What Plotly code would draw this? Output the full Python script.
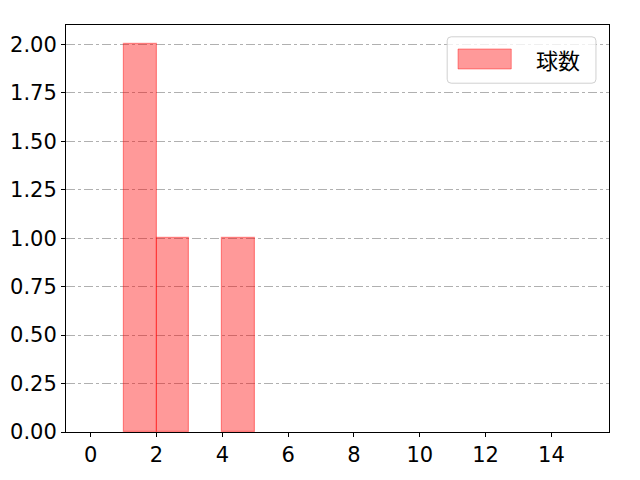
import plotly.graph_objects as go

# histogram bins (left edges) and counts
bin_left = [1, 2, 4]
counts = [2, 1, 1]
bin_width = 1
series_name = "球数"

x_ticks = [0, 2, 4, 6, 8, 10, 12, 14]
y_ticks = [0, 0.25, 0.5, 0.75, 1.0, 1.25, 1.5, 1.75, 2.0]

tick_font = "DejaVu Sans"
jp_font = "Noto Sans CJK JP"

fig = go.Figure()
fig.add_trace(go.Bar(
    x=[b + bin_width / 2 for b in bin_left], y=counts, width=bin_width,
    name=series_name, showlegend=False,
    marker=dict(color="rgba(255,0,0,0.4)", line=dict(color="rgba(255,0,0,0.4)", width=1.2)),
))


def rounded_rect(x0, x1, y0, y1, rx=4 / 543, ry=4 / 407):
    return (f"M{x0 + rx},{y0} L{x1 - rx},{y0} Q{x1},{y0} {x1},{y0 + ry} "
            f"L{x1},{y1 - ry} Q{x1},{y1} {x1 - rx},{y1} L{x0 + rx},{y1} "
            f"Q{x0},{y1} {x0},{y1 - ry} L{x0},{y0 + ry} Q{x0},{y0} {x0 + rx},{y0} Z")


# legend drawn by hand (matplotlib style)
fig.add_shape(type="path", xref="paper", yref="paper", path=rounded_rect(0.702, 0.976, 0.857, 0.971),
              line=dict(color="#d0d0d0", width=1), fillcolor="rgba(255,255,255,0.8)", layer="above")
fig.add_shape(type="rect", xref="paper", yref="paper", x0=0.722, x1=0.820, y0=0.892, y1=0.941,
              line=dict(color="rgba(255,0,0,0.4)", width=1), fillcolor="rgba(255,0,0,0.4)", layer="above")
fig.add_annotation(xref="paper", yref="paper", x=0.906, y=0.916, text=series_name, showarrow=False,
                   font=dict(family=jp_font, size=22, color="black"), xanchor="center", yanchor="middle")

fig.update_layout(
    width=624, height=464,
    margin=dict(l=58, r=23, t=17, b=40),
    paper_bgcolor="white", plot_bgcolor="white",
    font=dict(family=tick_font, size=21, color="black"),
    bargap=0,
)
fig.update_xaxes(range=[-0.75, 15.75], tickvals=x_ticks, showgrid=False, zeroline=False,
                 showline=True, linecolor="black", linewidth=1, mirror=True, automargin=False,
                 ticks="outside", ticklen=4, tickcolor="black")
fig.update_yaxes(range=[0, 2.1], tickvals=y_ticks, tickformat=".2f", showgrid=True,
                 gridcolor="#b0b0b0", griddash="dashdot", gridwidth=1, zeroline=False,
                 showline=True, linecolor="black", linewidth=1, mirror=True, automargin=False,
                 ticks="outside", ticklen=4, tickcolor="black")

fig.write_html("out.html")
